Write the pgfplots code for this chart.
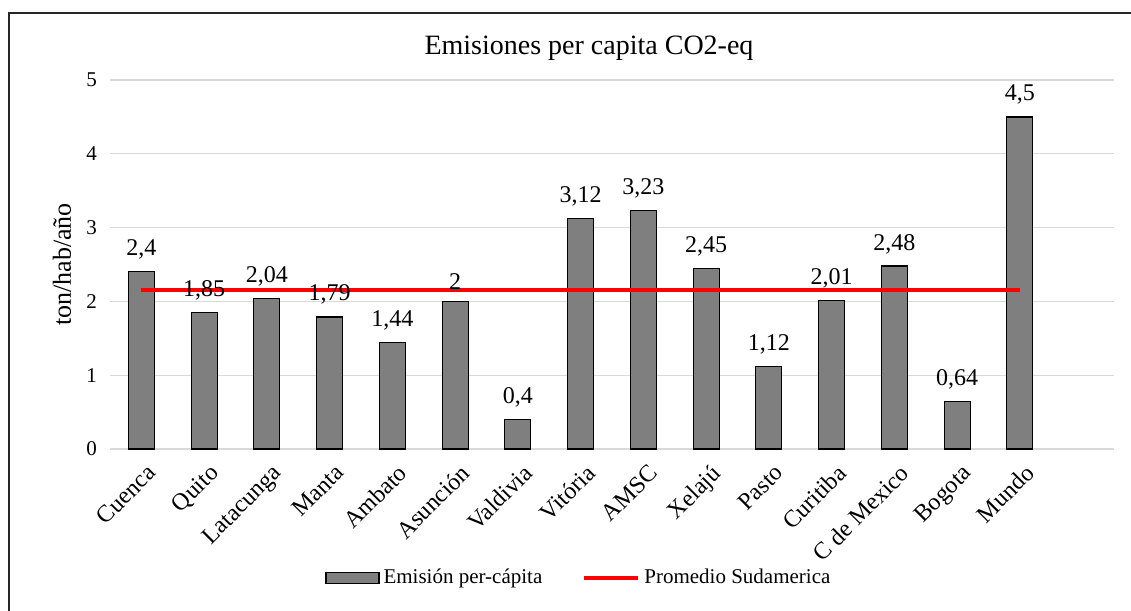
\documentclass[border=0pt]{standalone}
\usepackage{fontspec}
\setmainfont{Liberation Serif}
\usepackage{pgfplots}
\pgfplotsset{compat=1.18}
\usepackage{pgfplotstable}
\definecolor{barfill}{HTML}{7F7F7F}
\definecolor{gridc}{HTML}{D9D9D9}
\pgfplotstableread[col sep=comma]{
x,y,lab
0,2.4,{2,4}
1,1.85,{1,85}
2,2.04,{2,04}
3,1.79,{1,79}
4,1.44,{1,44}
5,2,{2}
6,0.4,{0,4}
7,3.12,{3,12}
8,3.23,{3,23}
9,2.45,{2,45}
10,1.12,{1,12}
11,2.01,{2,01}
12,2.48,{2,48}
13,0.64,{0,64}
14,4.5,{4,5}
}\emis
\begin{document}
\begin{tikzpicture}
\useasboundingbox (0,0) rectangle (565.5pt,305.5pt);
\draw[line width=1pt, black!85] (4.5pt,-10pt) -- (4.5pt,299pt) -- (700pt,299pt);
\node[font=\fontsize{14}{16}\selectfont] at (294.5pt,281.5pt) {Emisiones per capita CO2-eq};
\begin{axis}[
  at={(55pt,81pt)}, anchor=south west,
  scale only axis, width=502pt, height=184.5pt,
  xmin=-0.5, xmax=15.5, ymin=0, ymax=5,
  xtick={0,...,14},
  xticklabels={Cuenca,Quito,Latacunga,Manta,Ambato,Asunción,Valdivia,Vitória,AMSC,Xelajú,Pasto,Curitiba,C de Mexico,Bogota,Mundo},
  ytick={0,1,2,3,4,5},
  /pgf/number format/assume math mode=true,
  ymajorgrids, grid style={gridc, line width=0.6pt},
  axis line style={draw=none},
  major tick length=0pt,
  yticklabel style={font=\fontsize{10.5}{12}\selectfont, xshift=-3pt},
  xticklabel style={font=\fontsize{12}{14}\selectfont, rotate=45, anchor=north east, yshift=-3pt},
  ylabel={ton/hab/año},
  ylabel style={font=\fontsize{13}{15}\selectfont, at={(axis description cs:-0.0478,0.5)}, anchor=center, rotate=0},
  legend style={draw=none, at={(0.468,-0.35)}, anchor=center, legend columns=2,
     font=\fontsize{10.5}{12}\selectfont, /tikz/every even column/.append style={column sep=18pt}},
  clip=false,
]
\addplot[ybar, bar width=13pt, fill=barfill, draw=black, line width=0.6pt,
  point meta=explicit symbolic, nodes near coords,
  every node near coord/.append style={font=\fontsize{12}{14}\selectfont, yshift=2.5pt},
  legend image code/.code={\draw[fill=barfill, draw=black, line width=0.6pt] (0pt,-2.75pt) rectangle (26.5pt,2.75pt);}]
  table[x=x, y=y, meta=lab] {\emis};
\addlegendentry{Emisión per-cápita}
\addplot[red, line width=2pt, mark=none,
  legend image code/.code={\draw[red, line width=2pt] (0pt,0pt) -- (27pt,0pt);}]
  coordinates {(0,2.15) (14,2.15)};
\addlegendentry{Promedio Sudamerica}
\end{axis}
\end{tikzpicture}
\end{document}
